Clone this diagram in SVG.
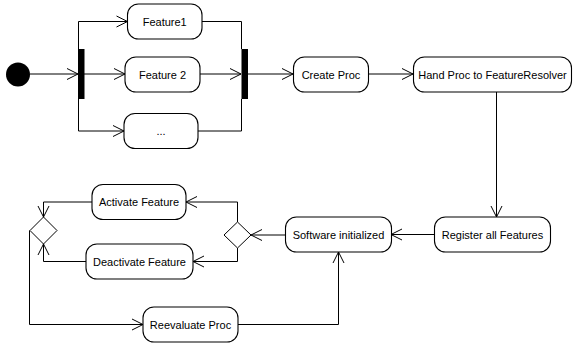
<svg xmlns="http://www.w3.org/2000/svg" width="573" height="345" viewBox="0 0 573 345">
  <style>
    .act rect { fill: #fff; stroke: #000; stroke-width: 1.1; }
    .act text { font-family: "Liberation Sans", Arial, sans-serif; font-size: 11px; fill: #000; text-anchor: middle; dominant-baseline: central; }
    .bar { fill: #000; }
    .dec { fill: #fff; stroke: #000; stroke-width: 1; }
    #connectors path { fill: none; stroke: #000; stroke-width: 1; }
    .arr { marker-end: url(#open); }
  </style>
  <defs>
    <marker id="open" markerUnits="userSpaceOnUse" viewBox="-12 -7 13 14" markerWidth="13" markerHeight="14" refX="0" refY="0" orient="auto">
      <path d="M-11,-5.5 L0,0 L-11,5.5" fill="none" stroke="#000" stroke-width="1"/>
    </marker>
  </defs>
  <rect width="573" height="345" fill="#fff"/>

  <g id="connectors">
    <path class="arr" d="M30,74 H78"/>
    <path class="arr" d="M78.5,49 V21.5 H127.5"/>
    <path class="arr" d="M84,74 H125"/>
    <path class="arr" d="M78.5,99 V131 H124"/>
    <path d="M202,21.5 H241.5 V49"/>
    <path class="arr" d="M200,74 H241"/>
    <path d="M198,131 H241.5 V99"/>
    <path class="arr" d="M248,74 H293"/>
    <path class="arr" d="M368,74 H413"/>
    <path class="arr" d="M496.5,92 V217"/>
    <path class="arr" d="M434,234.5 H391"/>
    <path class="arr" d="M285,235 H251"/>
    <path class="arr" d="M237.5,222 V202 H186"/>
    <path class="arr" d="M237.5,248 V261.5 H193"/>
    <path class="arr" d="M92,202 H43.5 V217"/>
    <path class="arr" d="M86,261.5 H43.5 V244"/>
    <path class="arr" d="M29.5,230.5 V324.5 H143"/>
    <path class="arr" d="M238,324.5 H338.5 V252"/>
  </g>

  <g id="start"><circle cx="18" cy="74.5" r="12" fill="#000"/></g>
  <g id="fork"><rect class="bar" x="78" y="49" width="6.5" height="50"/></g>
  <g id="join"><rect class="bar" x="241.5" y="49" width="6.5" height="50"/></g>

  <g id="feature1" class="act"><rect x="127.5" y="4" width="74.5" height="35" rx="11"/><text x="164.7" y="21.5">Feature1</text></g>
  <g id="feature2" class="act"><rect x="125" y="57" width="75" height="35" rx="11"/><text x="162.5" y="74.5">Feature 2</text></g>
  <g id="featureN" class="act"><rect x="124" y="113.5" width="74" height="35" rx="11"/><text x="161" y="131">...</text></g>

  <g id="createProc" class="act"><rect x="293.5" y="57" width="75" height="35" rx="11"/><text x="331" y="74.5">Create Proc</text></g>
  <g id="handProc" class="act"><rect x="413.5" y="57" width="158" height="35" rx="11"/><text x="492.5" y="74.5">Hand Proc to FeatureResolver</text></g>
  <g id="registerFeatures" class="act"><rect x="434.5" y="217" width="116" height="35" rx="11"/><text x="492.5" y="234.5">Register all Features</text></g>
  <g id="softwareInit" class="act"><rect x="285.5" y="217" width="106" height="35" rx="11"/><text x="338.5" y="234.5">Software initialized</text></g>

  <g id="decision"><path class="dec" d="M237.5,222 L251,235 L237.5,248 L224,235 Z"/></g>
  <g id="merge"><path class="dec" d="M43.5,217 L57,230.5 L43.5,244 L30,230.5 Z"/></g>

  <g id="activate" class="act"><rect x="92" y="184.5" width="94" height="35" rx="11"/><text x="139" y="202">Activate Feature</text></g>
  <g id="deactivate" class="act"><rect x="86" y="244" width="107" height="35" rx="11"/><text x="139.5" y="261.5">Deactivate Feature</text></g>
  <g id="reevaluate" class="act"><rect x="143" y="307" width="95" height="35" rx="11"/><text x="190.5" y="324.5">Reevaluate Proc</text></g>
</svg>
